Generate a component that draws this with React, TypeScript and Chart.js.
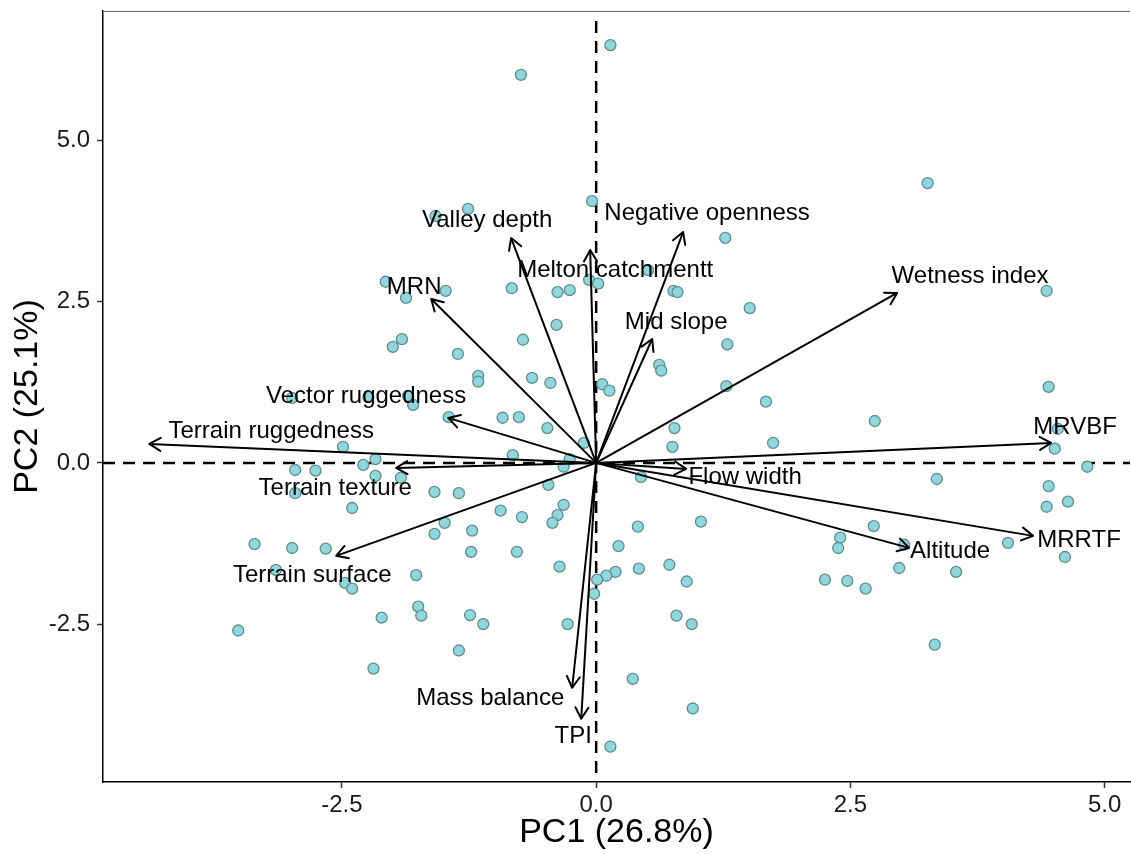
import React, { useEffect, useRef } from "react";
import { Chart, registerables } from "chart.js";

Chart.register(...registerables);

// Individual scores (PC1, PC2)
const pcX = [
  0.14, -0.74, 3.26, -1.58, -1.26, -0.04, 1.27, 4.43, -2.07, -1.87,
  -1.48, -0.83, -0.38, -0.26, -0.07, 0.02, 0.51, 0.76, 0.8, 1.51,
  -0.39, -0.72, -1.36, 1.29, 0.62, 0.64, -1.16, -1.16, -0.63, -0.45,
  0.06, 0.13, 1.28, 1.67, -1.45, -0.92, -0.76, -0.48, 0.77, -0.12,
  0.75, -0.82, -0.26, -0.32, 0.44, -1.35, -0.47, -2.0, -1.91, -2.99,
  -2.24, -1.85, -1.8, -2.49, -2.17, -2.29, -2.96, -2.76, -2.17, -1.92,
  -1.59, -2.96, -2.4, -1.49, -1.59, -3.36, -2.99, -2.66, -3.15, -2.47,
  -2.4, -1.77, -1.75, -1.72, -2.11, -3.52, -2.19, -0.94, -0.73, -0.32,
  -0.38, -0.43, -1.22, -1.23, -0.78, -0.36, 0.41, 1.03, 0.22, 0.42,
  0.19, 0.1, 0.01, -0.02, 0.72, 0.89, -1.24, -1.11, -0.28, 0.79,
  0.94, -1.35, 0.36, 0.95, 0.14, 4.45, 2.74, 1.74, 4.54, 4.51,
  4.83, 3.35, 4.45, 4.43, 4.64, 2.73, 2.4, 2.38, 3.03, 4.05,
  4.61, 2.98, 3.54, 2.25, 2.47, 2.65, 3.33,
];
const pcY = [
  6.48, 6.02, 4.34, 3.83, 3.94, 4.06, 3.49, 2.67, 2.81, 2.56,
  2.67, 2.71, 2.65, 2.68, 2.84, 2.78, 2.99, 2.67, 2.65, 2.4,
  2.14, 1.91, 1.69, 1.84, 1.52, 1.43, 1.35, 1.26, 1.32, 1.24,
  1.22, 1.12, 1.19, 0.95, 0.71, 0.7, 0.71, 0.54, 0.54, 0.31,
  0.25, 0.12, 0.06, -0.06, -0.22, -0.47, -0.34, 1.8, 1.92, 1.01,
  1.02, 1.04, 0.9, 0.25, 0.06, -0.03, -0.11, -0.12, -0.2, -0.23,
  -0.45, -0.47, -0.7, -0.93, -1.1, -1.26, -1.32, -1.33, -1.66, -1.86,
  -1.95, -1.74, -2.23, -2.37, -2.4, -2.6, -3.19, -0.74, -0.84, -0.65,
  -0.81, -0.93, -1.05, -1.38, -1.38, -1.61, -0.99, -0.91, -1.29, -1.64,
  -1.69, -1.75, -1.81, -2.03, -1.58, -1.84, -2.36, -2.5, -2.5, -2.37,
  -2.5, -2.91, -3.35, -3.81, -4.4, 1.18, 0.65, 0.31, 0.53, 0.22,
  -0.06, -0.25, -0.36, -0.68, -0.6, -0.98, -1.16, -1.32, -1.27, -1.24,
  -1.46, -1.63, -1.69, -1.81, -1.83, -1.95, -2.82,
];

// Variable loadings (arrow tips)
const varNames = [
  "Terrain ruggedness", "Vector ruggedness", "MRN", "Valley depth",
  "Melton catchmentt", "Negative openness", "Mid slope", "Wetness index",
  "MRVBF", "Flow width", "MRRTF", "Altitude", "TPI", "Mass balance",
  "Terrain surface", "Terrain texture",
];
const varX = [
  -4.395, -1.455, -1.622, -0.836, -0.059, 0.855, 0.551, 2.96,
  4.474, 0.885, 4.297, 3.078, -0.147, -0.236, -2.557, -1.967,
];
const varY = [
  0.295, 0.698, 2.543, 3.488, 3.302, 3.581, 1.922, 2.636,
  0.31, -0.093, -1.132, -1.318, -3.969, -3.488, -1.442, -0.078,
];
// Label anchor positions (data units)
const labelX = [
  -3.196, -2.262, -1.79, -1.072, 0.187, 1.091, 0.787, 3.677,
  4.71, 1.465, 4.749, 3.481, -0.226, -1.042, -2.792, -2.566,
];
const labelY = [
  0.496, 1.039, 2.729, 3.767, 2.992, 3.876, 2.186, 2.899,
  0.558, -0.217, -1.209, -1.38, -4.248, -3.659, -1.752, -0.388,
];

const xTicks = [-2.5, 0, 2.5, 5.0];
const yTicks = [-2.5, 0, 2.5, 5.0];
const xTitle = "PC1 (26.8%)";
const yTitle = "PC2 (25.1%)";

const FONT = "'Liberation Sans', Arial, Helvetica, sans-serif";

const biplotPlugin = {
  id: "biplot",
  beforeDatasetsDraw(chart: any) {
    const { ctx, chartArea, scales } = chart;
    const xs = scales.x;
    const ys = scales.y;
    ctx.save();
    // top panel line
    ctx.strokeStyle = "#6a6a6a";
    ctx.lineWidth = 1.2;
    ctx.beginPath();
    ctx.moveTo(chartArea.left, chartArea.top + 0.5);
    ctx.lineTo(chartArea.right, chartArea.top + 0.5);
    ctx.stroke();
    // dashed zero lines
    const x0 = xs.getPixelForValue(0);
    const y0 = ys.getPixelForValue(0);
    ctx.strokeStyle = "#000";
    ctx.lineWidth = 2.5;
    ctx.setLineDash([12, 8]);
    ctx.beginPath();
    ctx.moveTo(chartArea.left, y0);
    ctx.lineTo(chartArea.right, y0);
    ctx.stroke();
    ctx.beginPath();
    ctx.moveTo(x0, chartArea.top + 10);
    ctx.lineTo(x0, chartArea.bottom);
    ctx.stroke();
    ctx.restore();
  },
  afterDatasetsDraw(chart: any) {
    const { ctx, scales } = chart;
    const xs = scales.x;
    const ys = scales.y;
    const ox = xs.getPixelForValue(0);
    const oy = ys.getPixelForValue(0);
    ctx.save();
    ctx.strokeStyle = "#000";
    ctx.lineWidth = 2;
    ctx.lineCap = "round";
    ctx.lineJoin = "round";
    for (let i = 0; i < varNames.length; i++) {
      const tx = xs.getPixelForValue(varX[i]);
      const ty = ys.getPixelForValue(varY[i]);
      const ang = Math.atan2(ty - oy, tx - ox);
      const L = 13;
      const a = Math.PI / 6;
      ctx.beginPath();
      ctx.moveTo(tx + L * Math.cos(ang + Math.PI - a), ty + L * Math.sin(ang + Math.PI - a));
      ctx.lineTo(tx, ty);
      ctx.lineTo(tx + L * Math.cos(ang + Math.PI + a), ty + L * Math.sin(ang + Math.PI + a));
      ctx.stroke();
    }
    ctx.fillStyle = "#000";
    ctx.font = `24px ${FONT}`;
    ctx.textAlign = "center";
    ctx.textBaseline = "middle";
    for (let i = 0; i < varNames.length; i++) {
      ctx.fillText(varNames[i], xs.getPixelForValue(labelX[i]), ys.getPixelForValue(labelY[i]));
    }
    ctx.restore();
  },
};

export default function App() {
  const canvasRef = useRef<HTMLCanvasElement | null>(null);

  useEffect(() => {
    const canvas = canvasRef.current;
    if (!canvas) return;

    const pointData = pcX.map((v, i) => ({ x: v, y: pcY[i] }));
    const arrowSets = varNames.map((name, i) => ({
      type: "line" as const,
      label: name,
      data: [
        { x: 0, y: 0 },
        { x: varX[i], y: varY[i] },
      ],
      showLine: true,
      borderColor: "#000",
      borderWidth: 2,
      pointRadius: 0,
      fill: false,
      order: 1,
    }));

    const chart = new Chart(canvas, {
      type: "scatter",
      data: {
        datasets: [
          ...arrowSets,
          {
            type: "scatter" as const,
            label: "individuals",
            data: pointData,
            pointRadius: 5.5,
            pointBackgroundColor: "#8fd7da",
            pointBorderColor: "#5f8d8f",
            pointBorderWidth: 1.3,
            order: 2,
          },
        ] as any,
      },
      options: {
        responsive: false,
        animation: false,
        events: [],
        layout: { autoPadding: false, padding: { top: 11, right: 1, left: 0, bottom: 0 } },
        plugins: {
          legend: { display: false },
          tooltip: { enabled: false },
        },
        scales: {
          x: {
            type: "linear",
            min: -4.85,
            max: 5.25,
            afterBuildTicks: (scale: any) => {
              scale.ticks = xTicks.map((v) => ({ value: v }));
            },
            afterFit: (scale: any) => {
              scale.height = 72;
              scale.paddingLeft = 0;
              scale.paddingRight = 0;
              scale.paddingTop = 0;
              scale.paddingBottom = 0;
            },
            border: { display: true, color: "#000", width: 1.5 },
            grid: {
              display: true,
              drawOnChartArea: false,
              drawTicks: true,
              tickLength: 6,
              color: "#333",
              tickColor: "#333",
              tickWidth: 1.5,
            },
            ticks: {
              padding: 3,
              color: "#1a1a1a",
              font: { family: FONT, size: 24 },
              callback: (v: any) => Number(v).toFixed(1),
              maxRotation: 0,
            },
            title: {
              display: true,
              text: xTitle,
              color: "#000",
              font: { family: FONT, size: 34, lineHeight: 1 },
              padding: { top: 0, bottom: 4 },
            },
          },
          y: {
            type: "linear",
            min: -4.95,
            max: 7.01,
            afterBuildTicks: (scale: any) => {
              scale.ticks = yTicks.map((v) => ({ value: v }));
            },
            afterFit: (scale: any) => {
              scale.width = 103;
              scale.paddingLeft = 0;
              scale.paddingRight = 0;
              scale.paddingTop = 0;
              scale.paddingBottom = 0;
            },
            border: { display: true, color: "#000", width: 1.5 },
            grid: {
              display: true,
              drawOnChartArea: false,
              drawTicks: true,
              tickLength: 6,
              color: "#333",
              tickColor: "#333",
              tickWidth: 1.5,
            },
            ticks: {
              padding: 7,
              color: "#1a1a1a",
              font: { family: FONT, size: 24 },
              callback: (v: any) => Number(v).toFixed(1),
            },
            title: {
              display: true,
              text: yTitle,
              color: "#000",
              font: { family: FONT, size: 34, lineHeight: 1 },
              padding: { top: 11, bottom: 0 },
            },
          },
        },
      },
      plugins: [biplotPlugin],
    });

    return () => {
      chart.destroy();
    };
  }, []);

  return (
    <div style={{ position: "fixed", left: 0, top: 0, width: 1131, height: 854, background: "#fff" }}>
      <canvas ref={canvasRef} width={1131} height={854} style={{ display: "block" }} />
    </div>
  );
}
